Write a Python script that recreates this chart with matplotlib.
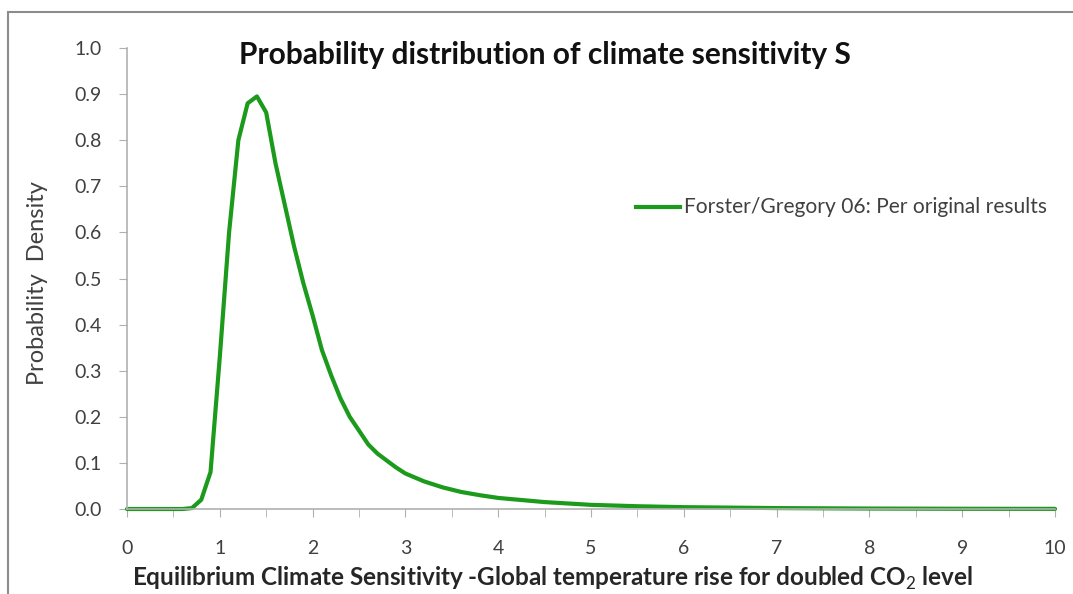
import matplotlib
matplotlib.use("Agg")
import matplotlib.pyplot as plt
from matplotlib.patches import Rectangle
from matplotlib.lines import Line2D

# Data
sensitivity = [0.0, 0.1, 0.2, 0.3, 0.4, 0.5, 0.6, 0.7, 0.8, 0.9, 1.0, 1.1, 1.2, 1.3, 1.4,
               1.5, 1.6, 1.7, 1.8, 1.9, 2.0, 2.1, 2.2, 2.3, 2.4, 2.5, 2.6, 2.7, 2.8, 2.9,
               3.0, 3.2, 3.4, 3.6, 3.8, 4.0, 4.5, 5.0, 5.5, 6.0, 7.0, 8.0, 9.0, 10.0]
density = [0.0, 0.0, 0.0, 0.0, 0.0, 0.0, 0.0, 0.002, 0.02, 0.08, 0.33, 0.60, 0.80, 0.88, 0.895,
           0.86, 0.75, 0.66, 0.57, 0.49, 0.42, 0.345, 0.29, 0.24, 0.20, 0.17, 0.14, 0.12, 0.105, 0.09,
           0.077, 0.06, 0.047, 0.037, 0.03, 0.024, 0.015, 0.009, 0.006, 0.004, 0.002, 0.001, 0.0005, 0.0003]
series_label = "Forster/Gregory 06: Per original results"
title = "Probability distribution of climate sensitivity S"
xlabel = "Equilibrium Climate Sensitivity -Global temperature rise for doubled CO$_2$ level"
ylabel = "Probability  Density"
xticks = list(range(0, 11))
yticks = [round(0.1 * i, 1) for i in range(11)]

plt.rcParams['font.family'] = ['Lato', 'DejaVu Sans']
plt.rcParams['mathtext.fontset'] = 'custom'
plt.rcParams['mathtext.rm'] = 'Lato'
plt.rcParams['mathtext.bf'] = 'Lato:bold'

W, H = 1073, 594
fig = plt.figure(figsize=(W / 100, H / 100), dpi=100)
fig.patch.set_facecolor('white')

# chart border
fig.add_artist(Rectangle((8 / W, -0.05), 1.2, (H - 12) / H + 0.05, transform=fig.transFigure,
                         fill=False, edgecolor='#8c8c8c', linewidth=1.5))

ax = fig.add_axes([127 / W, 1 - 509 / H, (1055 - 127) / W, (509 - 48) / H])
green = '#1c9a1c'
ax.plot(sensitivity, density, color=green, linewidth=3, solid_capstyle='round',
        solid_joinstyle='round', clip_on=False)

ax.set_xlim(0, 10)
ax.set_ylim(0, 1.0)
ax.set_xticks(xticks)
ax.set_xticks([x + 0.5 for x in xticks[:-1]], minor=True)
ax.set_yticks(yticks)
ax.set_yticklabels([f"{v:.1f}" for v in yticks])

for s in ['top', 'right']:
    ax.spines[s].set_visible(False)
for s in ['left', 'bottom']:
    ax.spines[s].set_color('#b0b0b0')
    ax.spines[s].set_linewidth(1.2)

ax.tick_params(axis='both', which='both', direction='out', color='#b0b0b0',
               labelcolor='#404040', labelsize=14)
ax.tick_params(axis='x', which='major', length=6, pad=16)
ax.tick_params(axis='x', which='minor', length=6)
ax.tick_params(axis='y', which='major', length=6, pad=12)

fig.text(552 / W, 1 - 578 / H, xlabel, ha='center', va='center', fontsize=17.5,
         fontweight='bold', color='#262626')
fig.text(38 / W, 1 - 283 / H, ylabel, ha='center', va='center', rotation=90,
         fontsize=17, color='#404040')

fig.text(545 / W, 1 - 55 / H, title, ha='center', va='center', fontsize=21.5,
         fontweight='bold', color='#111111')

# legend
leg_y = 1 - 207 / H
fig.add_artist(Line2D([636 / W, 680 / W], [leg_y, leg_y], transform=fig.transFigure,
                      color=green, linewidth=3))
fig.text(684 / W, leg_y, series_label, ha='left', va='center', fontsize=15.1, color='#404040')

fig.savefig('out.png', dpi=100)
